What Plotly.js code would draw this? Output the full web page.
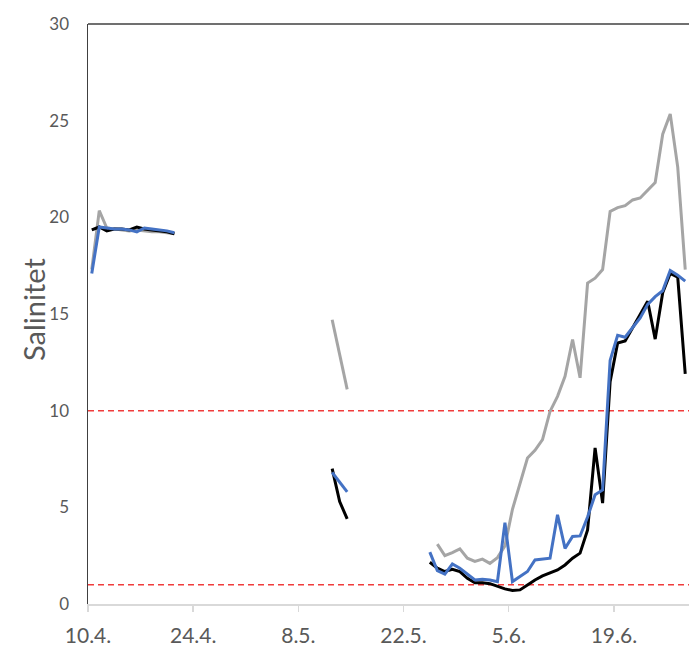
<!DOCTYPE html>
<html><head><meta charset="utf-8">
<script src="https://cdn.plot.ly/plotly-3.0.1.min.js"></script>
<style>html,body{margin:0;padding:0;background:#fff}</style>
</head><body><div id="chart" style="width:689px;height:646px"></div>
<script>
// Segment 1: 10.4.–21.4.
const seg1Dates = ["2021-04-10","2021-04-11","2021-04-12","2021-04-13","2021-04-14","2021-04-15",
                   "2021-04-16","2021-04-17","2021-04-18","2021-04-19","2021-04-20","2021-04-21"];
const seg1Black = [19.35,19.5,19.3,19.4,19.4,19.35,19.5,19.4,19.35,19.3,19.25,19.15];
const seg1Blue  = [17.1,19.5,19.45,19.4,19.4,19.35,19.25,19.45,19.4,19.35,19.3,19.2];
const seg1Gray  = [17.3,20.35,19.45,19.4,19.35,19.3,19.35,19.3,19.25,19.25,19.2,19.15];

// Segment 2: 12.5.–14.5.
const seg2Dates = ["2021-05-12","2021-05-13","2021-05-14"];
const seg2Black = [7.0,5.3,4.4];
const seg2Blue  = [6.8,6.3,5.8];
const seg2Gray  = [14.7,12.9,11.1];

// Segment 3: 25.5.–28.6.
const seg3Dates = ["2021-05-25","2021-05-26","2021-05-27","2021-05-28","2021-05-29","2021-05-30","2021-05-31",
  "2021-06-01","2021-06-02","2021-06-03","2021-06-04","2021-06-05","2021-06-06","2021-06-07","2021-06-08",
  "2021-06-09","2021-06-10","2021-06-11","2021-06-12","2021-06-13","2021-06-14","2021-06-15","2021-06-16",
  "2021-06-17","2021-06-18","2021-06-19","2021-06-20","2021-06-21","2021-06-22","2021-06-23","2021-06-24",
  "2021-06-25","2021-06-26","2021-06-27","2021-06-28"];
const seg3Black = [2.16,1.85,1.68,1.8,1.68,1.33,1.1,1.1,1.05,0.9,0.78,0.7,0.73,0.98,1.24,1.45,1.62,1.76,2.02,
  2.37,2.63,3.83,8.07,5.22,11.5,13.5,13.6,14.3,15.0,15.66,13.7,16.1,17.1,16.9,11.9];
const seg3Blue  = [2.68,1.73,1.55,2.07,1.85,1.55,1.24,1.28,1.24,1.15,4.2,1.16,1.42,1.68,2.28,2.33,2.37,4.61,2.88,
  3.49,3.52,4.5,5.65,5.9,12.6,13.9,13.8,14.3,14.8,15.5,15.9,16.2,17.25,17.0,16.7];
const seg3Gray  = [null,3.1,2.5,2.66,2.85,2.37,2.2,2.32,2.1,2.4,3.0,4.9,6.25,7.55,7.95,8.5,9.96,10.74,11.78,
  13.68,11.7,16.6,16.85,17.3,20.3,20.5,20.6,20.9,21.0,21.4,21.8,24.3,25.35,22.6,17.3];

// gaps between segments
const gapDates = ["2021-04-22","2021-05-15"];

const thresholds = [1, 10];
const tickLabels = ["10.4.","24.4.","8.5.","22.5.","5.6.","19.6."];
const tickDates  = ["2021-04-09 12:00","2021-04-23 12:00","2021-05-07 12:00","2021-05-21 12:00","2021-06-04 12:00","2021-06-18 12:00"];
const xRange = ["2021-04-09 12:00","2021-06-28 12:00"];

const xAll = [...seg1Dates, gapDates[0], ...seg2Dates, gapDates[1], ...seg3Dates];
function join(a,b,c){ return [...a, null, ...b, null, ...c]; }

const series = [
  {name:"gray",  y: join(seg1Gray, seg2Gray, seg3Gray),   color:"#A5A5A5"},
  {name:"black", y: join(seg1Black, seg2Black, seg3Black), color:"#000000"},
  {name:"blue",  y: join(seg1Blue, seg2Blue, seg3Blue),   color:"#4472C4"}
];

const traces = series.map(s => ({
  type:"scatter", mode:"lines", x: xAll, y: s.y, name: s.name,
  connectgaps:false, line:{color:s.color, width:3}, showlegend:false, hoverinfo:"skip"
}));

const font = "Lato, 'Open Sans', sans-serif";
const shapes = thresholds.map(t => ({
  type:"line", xref:"paper", x0:0, x1:1, yref:"y", y0:t, y1:t,
  line:{color:"#F03C3C", width:1.5, dash:"6px,4px"}, layer:"below"
}));
shapes.push({type:"line", xref:"paper", yref:"paper", x0:0, x1:1, y0:1, y1:1,
  line:{color:"#404040", width:1.5}});

const layout = {
  width:689, height:646,
  margin:{l:88, r:0, t:24, b:42},
  paper_bgcolor:"#fff", plot_bgcolor:"#fff",
  font:{family:font, color:"#595959"},
  xaxis:{
    type:"date", range:xRange, tickmode:"array", tickvals:tickDates, ticktext:tickLabels,
    showgrid:false, zeroline:false, showline:true, linecolor:"#D9D9D9", linewidth:1.5,
    ticks:"outside", ticklen:6, tickcolor:"#D9D9D9", tickwidth:1.5,
    tickfont:{size:21, color:"#595959"}, ticklabelstandoff:6
  },
  yaxis:{
    range:[0,30], dtick:5, showgrid:false, zeroline:false, showline:true,
    linecolor:"#404040", linewidth:1.5, ticks:"", tickfont:{size:17, color:"#595959"},
    ticklabelstandoff:14
  },
  shapes: shapes,
  annotations:[{text:"Salinitet", xref:"paper", yref:"paper", x:0, y:0.5, xshift:-55, yshift:4,
    xanchor:"center", yanchor:"middle", textangle:-90, showarrow:false,
    font:{size:29, color:"#595959", family:font}}]
};

Plotly.newPlot("chart", traces, layout, {displayModeBar:false, staticPlot:true});
</script>
</body></html>
